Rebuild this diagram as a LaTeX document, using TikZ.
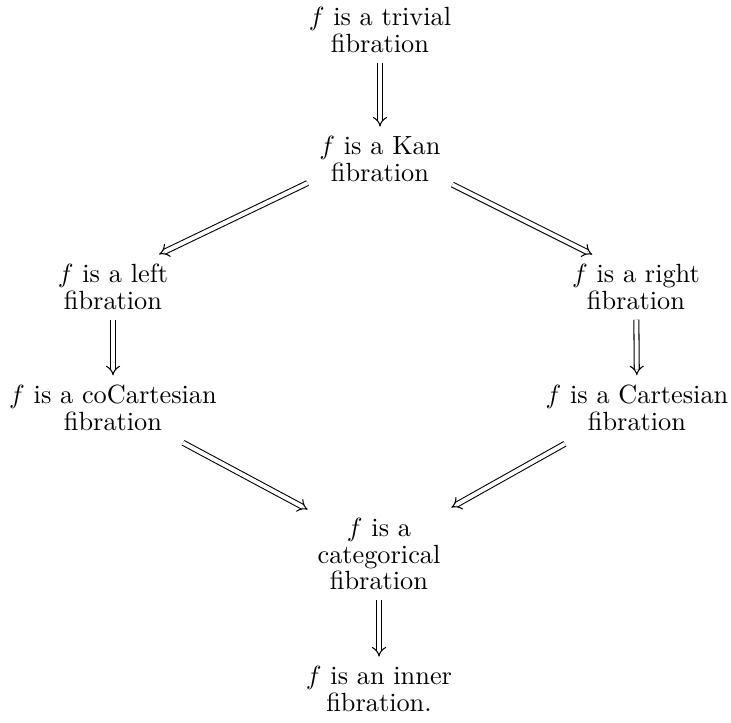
\documentclass[tikz,border=0pt]{standalone}
\usetikzlibrary{arrows.meta,cd}
\newcommand\stmtlines[1]{\vtop{\halign{\hfil##\hfil\cr#1\crcr}}}
\begin{document}
\begin{tikzpicture}[x=0.38pt,y=-0.38pt,
  stmt/.style={shape=asymmetrical rectangle,inner xsep=1ex,inner ysep=0.85ex,font=\fontsize{10pt}{10pt}\selectfont},
  impl/.style={double,double distance=1.5pt,line width=0.4pt,-{Implies[]}}]
\useasboundingbox (0,0) rectangle (731,723);
\node[stmt] (triv) at (380,19.4) {\stmtlines{$f$ is a trivial\cr fibration}};
\node[stmt] (kan) at (380,148.4) {\stmtlines{$f$ is a Kan\cr fibration}};
\node[stmt] (left) at (113,276.4) {\stmtlines{$f$ is a left\cr fibration}};
\node[stmt] (right) at (636,276.4) {\stmtlines{$f$ is a right\cr fibration}};
\node[stmt] (cocart) at (113,397.4) {\stmtlines{$f$ is a coCartesian\cr fibration}};
\node[stmt] (cart) at (637,397.4) {\stmtlines{$f$ is a Cartesian\cr fibration}};
\node[stmt] (categ) at (379,530.4) {\stmtlines{$f$ is a\cr categorical\cr fibration}};
\node[stmt] (inner) at (379,678.4) {\stmtlines{$f$ is an inner\cr fibration.}};
\draw[impl] (triv) -- (kan);
\draw[impl] (kan) -- (left);
\draw[impl] (kan) -- (right);
\draw[impl] (left) -- (cocart);
\draw[impl] (right) -- (cart);
\draw[impl] ([shift={(70,2)}]cocart.south) -- ([shift={(2,1)}]categ.north west);
\draw[impl] ([shift={(-72,3)}]cart.south) -- ([shift={(-1,-1)}]categ.north east);
\draw[impl] (categ) -- (inner);
\end{tikzpicture}
\end{document}
